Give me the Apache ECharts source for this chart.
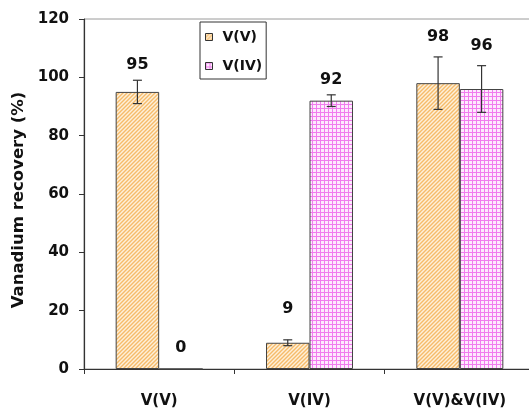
<!DOCTYPE html>
<html>
<head>
<meta charset="utf-8">
<script src="https://cdn.jsdelivr.net/npm/echarts@6/dist/echarts.min.js"></script>
<style>
  html, body { margin: 0; padding: 0; background: #fff; }
  #chart { width: 529px; height: 409px; }
</style>
</head>
<body>
<div id="chart"></div>
<script>
// Recovery of vanadium species for each feed solution
const categories = ['V(V)', 'V(IV)', 'V(V)&V(IV)'];
const seriesNames = ['V(V)', 'V(IV)'];
const vvValues = [95, 9, 98];
const vivValues = [0, 92, 96];
const vvErrors = [4, 1, 9];
const vivErrors = [null, 2, 8];
const yTicks = { min: 0, max: 120, interval: 20 };

// Label lift above each bar (px) so numbers clear the error bars
const vvLabelLift = [19, 26, 38];
const vivLabelLift = [13, 13, 35];

const FONT = 'DejaVu Sans';
const BAR_W = 43.5;

function hatchPattern() {
  const c = document.createElement('canvas');
  c.width = c.height = 4;
  const g = c.getContext('2d');
  g.fillStyle = '#fef0da';
  g.fillRect(0, 0, 4, 4);
  g.strokeStyle = '#f6bb6a';
  g.lineWidth = 1.4;
  g.beginPath();
  g.moveTo(-1, 5); g.lineTo(5, -1);
  g.moveTo(-1, 1); g.lineTo(1, -1);
  g.moveTo(3, 5); g.lineTo(5, 3);
  g.stroke();
  return { image: c, repeat: 'repeat' };
}

function gridPattern() {
  const c = document.createElement('canvas');
  c.width = c.height = 4;
  const g = c.getContext('2d');
  g.fillStyle = '#fdeafd';
  g.fillRect(0, 0, 4, 4);
  g.fillStyle = '#f17cee';
  g.fillRect(0, 0, 4, 1);
  g.fillRect(0, 0, 1, 4);
  return { image: c, repeat: 'repeat' };
}

const fills = [hatchPattern(), gridPattern()];

function barData(values, lifts) {
  return values.map((v, i) => ({ value: v, label: { distance: lifts[i] } }));
}

function errorData(values, errors) {
  const out = [];
  values.forEach((v, i) => {
    if (errors[i] != null) out.push([i, v - errors[i], v + errors[i]]);
  });
  return out;
}

function errorSeries(values, errors, shift) {
  return {
    type: 'custom',
    z: 5,
    silent: true,
    data: errorData(values, errors),
    renderItem: function (params, api) {
      const lo = api.coord([api.value(0), api.value(1)]);
      const hi = api.coord([api.value(0), api.value(2)]);
      const x = lo[0] + shift;
      const cap = 4.5;
      const style = { stroke: '#333', lineWidth: 1.2 };
      return {
        type: 'group',
        children: [
          { type: 'line', shape: { x1: x, y1: lo[1], x2: x, y2: hi[1] }, style: style },
          { type: 'line', shape: { x1: x - cap, y1: lo[1], x2: x + cap, y2: lo[1] }, style: style },
          { type: 'line', shape: { x1: x - cap, y1: hi[1], x2: x + cap, y2: hi[1] }, style: style }
        ]
      };
    }
  };
}

const valueLabel = {
  show: true,
  position: 'top',
  fontFamily: FONT,
  fontWeight: 'bold',
  fontSize: 16,
  color: '#111'
};

const chart = echarts.init(document.getElementById('chart'), null, { renderer: 'canvas' });

chart.setOption({
  animation: false,
  backgroundColor: '#fff',
  // plot frame runs past the right edge of the page
  grid: {
    left: 84, top: 19, width: 451, height: 350,
    outerBoundsMode: 'none',
    containLabel: false,
    show: true, borderColor: '#9a9a9a', borderWidth: 1, backgroundColor: 'transparent'
  },
  legend: {
    orient: 'vertical',
    left: 200, top: 22,
    padding: [7, 4, 5, 5],
    icon: 'rect',
    itemWidth: 7, itemHeight: 7, itemGap: 13,
    itemStyle: { borderColor: '#333', borderWidth: 1 },
    borderColor: '#333', borderWidth: 1,
    textStyle: { fontFamily: FONT, fontWeight: 'bold', fontSize: 14, color: '#111', lineHeight: 16, padding: [0, 0, 0, 5] },
    data: seriesNames
  },
  xAxis: {
    type: 'category',
    data: categories,
    axisLine: { lineStyle: { color: '#333', width: 1.2 } },
    axisTick: { show: true, length: 5, lineStyle: { color: '#333' } },
    axisLabel: { margin: 25, fontFamily: FONT, fontWeight: 'bold', fontSize: 15, color: '#111' }
  },
  yAxis: {
    type: 'value',
    min: yTicks.min, max: yTicks.max, interval: yTicks.interval,
    splitLine: { show: false },
    axisLine: { show: true, lineStyle: { color: '#333', width: 1.2 } },
    axisTick: { show: true, length: 5, lineStyle: { color: '#333' } },
    axisLabel: { margin: 15, fontFamily: FONT, fontWeight: 'bold', fontSize: 15, color: '#111' },
    name: 'Vanadium recovery (%)',
    nameLocation: 'middle',
    nameGap: 44,
    nameTextStyle: { fontFamily: FONT, fontWeight: 'bold', fontSize: 16.5, color: '#111', padding: [0, 12, 0, 0] }
  },
  series: [
    {
      name: seriesNames[0],
      type: 'bar',
      barWidth: BAR_W,
      barGap: '0%',
      itemStyle: { color: fills[0], borderColor: '#444', borderWidth: 1 },
      label: valueLabel,
      data: barData(vvValues, vvLabelLift)
    },
    {
      name: seriesNames[1],
      type: 'bar',
      barWidth: BAR_W,
      barGap: '0%',
      itemStyle: { color: fills[1], borderColor: '#444', borderWidth: 1 },
      label: valueLabel,
      data: barData(vivValues, vivLabelLift)
    },
    errorSeries(vvValues, vvErrors, -BAR_W / 2),
    errorSeries(vivValues, vivErrors, BAR_W / 2)
  ]
});
</script>
</body>
</html>
